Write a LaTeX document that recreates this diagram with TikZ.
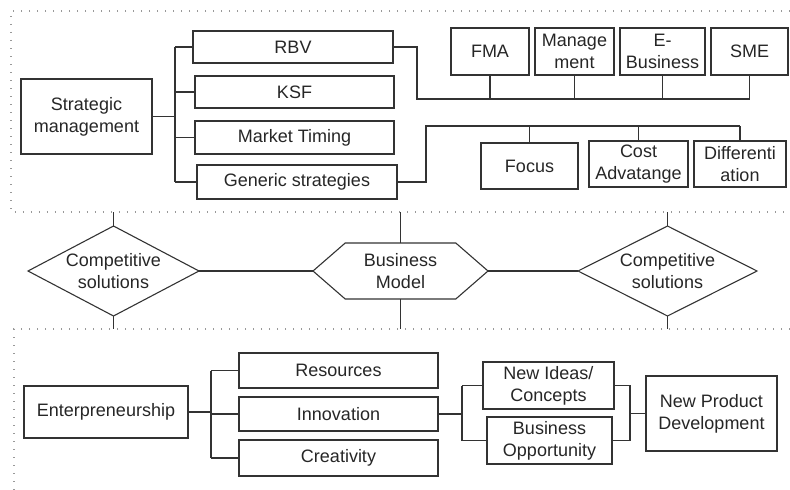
\documentclass[tikz,border=0pt]{standalone}
\usepackage{fontspec}
\setmainfont{Liberation Sans}
\usetikzlibrary{positioning,calc,shapes.geometric,shapes.symbols}

\tikzset{
  box/.style={draw=black!80, line width=1.1pt, align=center, inner sep=0pt, outer sep=0pt,
    text=black!85, font=\fontsize{18}{22}\selectfont},
  link/.style={draw=black!80, line width=1.5pt},
  zone/.style={draw=black!40, line width=1.3pt, dash pattern=on 1.3pt off 6.7pt},
  txt/.style={align=center, text=black!85, font=\fontsize{18}{22}\selectfont}
}

\begin{document}
\begin{tikzpicture}[x=1pt, y=-1pt]
  \useasboundingbox (0,0) rectangle (790,490);
  \draw[zone] (790,11) -- (11,11) -- (11,212) -- (790,212);
  \draw[zone] (790,329) -- (14,329) -- (14,490);
  \coordinate (topline) at (0,212);
  \coordinate (lowline) at (0,329);

  \node[box, minimum width=131pt, minimum height=75pt] (sm) at (86.5,116.5) {Strategic\\management};
  \node[box, minimum width=200pt, minimum height=32pt] (rbv) at (293,47) {RBV};
  \node[box, minimum width=199pt, minimum height=32pt] (ksf) at (294.5,92) {KSF};
  \node[box, minimum width=199pt, minimum height=33pt] (mt) at (294.5,137.5) {Market Timing};
  \node[box, minimum width=200pt, minimum height=34pt] (gen) at (297,182) {Generic strategies};
  \node[box, minimum width=78pt, minimum height=47pt] (fma) at (490,51.5) {FMA};
  \node[box, minimum width=79pt, minimum height=47pt] (mgmt) at (574.5,51.5) {Manage\\ment};
  \node[box, minimum width=85pt, minimum height=47pt] (ebiz) at (662.5,51.5) {E-\\Business};
  \node[box, minimum width=77pt, minimum height=47pt] (sme) at (749.5,51.5) {SME};
  \node[box, minimum width=97pt, minimum height=46pt] (focus) at (529.5,166) {Focus};
  \node[box, minimum width=99pt, minimum height=46pt] (cost) at (638.5,164) {Cost\\Advatange};
  \node[box, minimum width=92pt, minimum height=46pt] (diff) at (740,164) {Differenti\\ation};

  \draw[link] (sm.east) -- ++(23,0) coordinate (smbus);
  \draw[link] (smbus |- rbv) -- (smbus |- gen);
  \foreach \n in {rbv,ksf,mt,gen}
    \draw[link] (smbus |- \n) -- (\n.west);
  \coordinate (rbvbus) at (417,99);
  \draw[link] (rbv.east) -| (rbvbus) -- (rbvbus -| sme.south);
  \foreach \n in {fma,mgmt,ebiz,sme}
    \draw[link] (\n.south) -- (\n.south |- rbvbus);
  \coordinate (genbus) at (426,126);
  \draw[link] (gen.east) -| (genbus) -- (genbus -| diff.north);
  \foreach \n in {focus,cost,diff}
    \draw[link] (\n.north) -- (\n.north |- genbus);

  \node[box, shape=diamond, minimum width=171pt, minimum height=90pt,
    label={[txt]center:{Competitive\\solutions}}] (cs1) at (113.5,271) {};
  \node[box, shape=signal, signal to=west and east, signal pointer angle=82,
    minimum width=175pt, minimum height=56pt] (bm) at (400.5,271) {Business\\Model};
  \node[box, shape=diamond, minimum width=179pt, minimum height=90pt,
    label={[txt]center:{Competitive\\solutions}}] (cs2) at (667.5,271) {};
  \draw[link] (cs1.east) -- (bm.west);
  \draw[link] (bm.east) -- (cs2.west);
  \foreach \n in {cs1,bm,cs2} {
    \draw[link] (\n.north) -- (\n.north |- topline);
    \draw[link] (\n.south) -- (\n.south |- lowline);
  }

  \node[box, minimum width=164pt, minimum height=52pt] (ent) at (106,412) {Enterpreneurship};
  \node[box, minimum width=199pt, minimum height=35pt] (res) at (338.5,370.5) {Resources};
  \node[box, minimum width=199pt, minimum height=34pt] (inn) at (338.5,414) {Innovation};
  \node[box, minimum width=199pt, minimum height=36pt] (cre) at (338.5,458) {Creativity};
  \node[box, minimum width=131pt, minimum height=47pt] (ideas) at (548.5,385.5) {New Ideas/\\Concepts};
  \node[box, minimum width=125pt, minimum height=47pt] (opp) at (549.5,440.5) {Business\\Opportunity};
  \node[box, minimum width=131pt, minimum height=75pt] (npd) at (711.5,413.5) {New Product\\Development};

  \draw[link] (ent.east) -- ++(23,0) coordinate (entbus);
  \draw[link] (entbus |- res) -- (entbus |- cre);
  \foreach \n in {res,inn,cre}
    \draw[link] (entbus |- \n) -- (\n.west);
  \draw[link] (inn.east) -- ++(24,0) coordinate (innbus);
  \draw[link] (innbus |- ideas) -- (innbus |- opp);
  \foreach \n in {ideas,opp}
    \draw[link] (innbus |- \n) -- (\n.west);
  \coordinate (npdbus) at (630,413.5);
  \draw[link] (ideas.east) -| (npdbus);
  \draw[link] (opp.east) -| (npdbus);
  \draw[link] (npdbus) -- (npd.west);
\end{tikzpicture}
\end{document}
